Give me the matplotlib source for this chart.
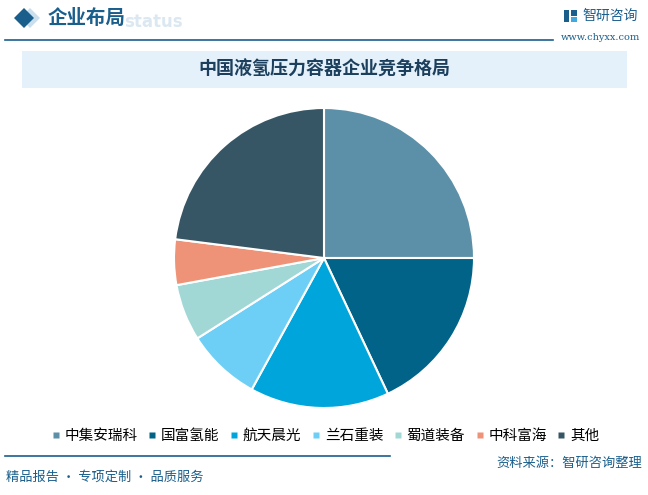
import matplotlib
matplotlib.use("Agg")
import matplotlib.pyplot as plt
from matplotlib.patches import Polygon, Rectangle
from matplotlib.lines import Line2D

plt.rcParams["font.family"] = ["Noto Sans CJK SC", "DejaVu Sans"]

# data (shares, %)
companies = ["中集安瑞科", "国富氢能", "航天晨光", "兰石重装", "蜀道装备", "中科富海", "其他"]
shares = [25, 18, 15, 8, 6.1, 4.9, 23]
colors = ["#5b90a8", "#006387", "#00a6db", "#6dcff6", "#a1d8d6", "#ee9377", "#375665"]

title = "中国液氢压力容器企业竞争格局"
header = "企业布局"
source = "资料来源：智研咨询整理"
footer = "精品报告 · 专项定制 · 品质服务"

W, H = 648, 495
fig = plt.figure(figsize=(W / 100, H / 100), dpi=100)

# overlay axes in pixel units for the page decorations
bg = fig.add_axes([0, 0, 1, 1])
bg.set_xlim(0, W)
bg.set_ylim(H, 0)
bg.axis("off")

dark_blue = "#1a5f8c"

# header
bg.add_patch(Polygon([[30, 8], [40, 18], [30, 28], [20, 18]], closed=True,
                     facecolor="#c9dfee", edgecolor="none"))
bg.add_patch(Polygon([[24, 8], [34, 18], [24, 28], [14, 18]], closed=True,
                     facecolor=dark_blue, edgecolor="none"))
bg.text(124, 22, "status", fontsize=12, fontweight="bold",
        color="#dbe8f1", ha="left", va="center", family="DejaVu Sans")
bg.text(48, 18, header, fontsize=14, fontweight="bold", color=dark_blue,
        ha="left", va="center")
bg.plot([5, 553], [40, 40], color=dark_blue, lw=1.2)

# logo
bg.add_patch(Rectangle((564, 10), 5, 12, facecolor=dark_blue))
bg.add_patch(Rectangle((571, 10), 6, 6, facecolor=dark_blue))
bg.add_patch(Rectangle((571, 17), 6, 5, facecolor="#3fa9e0"))
bg.text(582, 16, "智研咨询", fontsize=10, color=dark_blue, ha="left", va="center")
bg.text(600, 38, "www.chyxx.com", fontsize=7, color=dark_blue, ha="center",
        va="center", family="DejaVu Serif")

# title band
bg.add_patch(Rectangle((22, 51), 605, 37, facecolor="#e4f1fa", edgecolor="none"))
bg.text(324, 69, title, fontsize=13, fontweight="bold", color="#1b3f5c",
        ha="center", va="center")

# footer
bg.plot([5, 390], [456, 456], color=dark_blue, lw=1.2)
bg.text(642, 463, source, fontsize=9.5, color=dark_blue, ha="right", va="center")
bg.text(6, 477, footer, fontsize=9.5, color=dark_blue, ha="left", va="center")

# pie
ax = fig.add_axes([174 / W, 1 - 408 / H, 300 / W, 300 / H])
ax.pie(shares, colors=colors, startangle=90, counterclock=False,
       wedgeprops=dict(edgecolor="white", linewidth=1.5))
ax.set_xlim(-1.0, 1.0)
ax.set_ylim(-1.0, 1.0)
ax.set_aspect("equal")

handles = [Line2D([], [], marker="s", linestyle="none", markersize=5,
                  markerfacecolor=c, markeredgecolor="none") for c in colors]
fig.legend(handles, companies, loc="center", bbox_to_anchor=(0.5, 1 - 436 / H),
           ncol=7, frameon=False, fontsize=10.5, handletextpad=0.1,
           columnspacing=0.5, handlelength=1.0)

fig.savefig("out.png", dpi=100)
